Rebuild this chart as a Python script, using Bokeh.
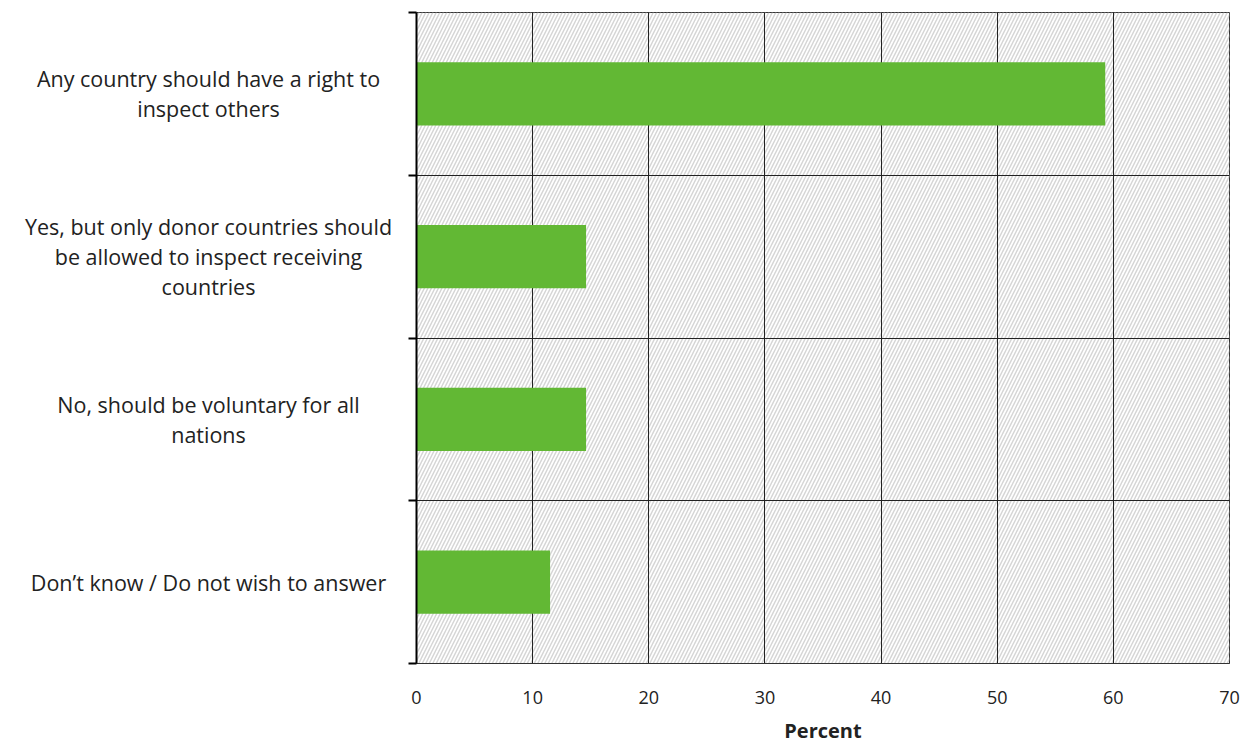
from bokeh.plotting import figure
from bokeh.layouts import row
from bokeh.models import (Range1d, FixedTicker, BoxAnnotation, ColumnDataSource)
from bokeh.core.properties import value
from bokeh.embed import file_html
from bokeh.resources import INLINE

categories = [
    "Any country should have a right to\ninspect others",
    "Yes, but only donor countries should\nbe allowed to inspect receiving\ncountries",
    "No, should be voluntary for all\nnations",
    "Don\u2019t know / Do not wish to answer",
]
values = [59.3, 14.6, 14.6, 11.5]
x_ticks = [0, 10, 20, 30, 40, 50, 60, 70]

FONT = "Open Sans"
ys = [i + 0.5 for i in range(len(categories))]
bounds = list(range(len(categories) + 1))

H = 746
LEFT_W = 408
y_range = Range1d(len(categories), 0)

# ---- left panel: category labels ----
lp = figure(width=LEFT_W, height=H, output_backend="svg", toolbar_location=None,
            x_range=Range1d(0, LEFT_W), y_range=y_range,
            x_axis_location=None, y_axis_location=None,
            min_border_left=0, min_border_right=0, min_border_top=12, min_border_bottom=82)
lp.outline_line_color = None
lp.grid.visible = False
lsrc = ColumnDataSource(dict(y=ys, t=categories))
lp.text(x=208, y="y", text="t", source=lsrc, text_align="center", text_baseline="middle",
        text_font=value(FONT), text_font_size="21.5px", text_color="#222222",
        text_line_height=1.04)

# ---- main panel ----
p = figure(width=1240 - LEFT_W, height=H, output_backend="svg", toolbar_location=None,
           x_range=Range1d(0, 70), y_range=y_range,
           min_border_left=8, min_border_right=11, min_border_top=12, min_border_bottom=82)

p.background_fill_color = "white"
p.outline_line_color = "#333333"
p.outline_line_width = 1

hatch = BoxAnnotation(fill_alpha=0, line_alpha=0, hatch_pattern="/", hatch_color="#d6d6d6",
                      hatch_scale=7, hatch_weight=1.5, level="image")
p.add_layout(hatch)

src = ColumnDataSource(dict(y=ys, v=values))
p.hbar(y="y", right="v", left=0, height=0.39, source=src, fill_color="#62b834", line_color=None)

p.xgrid.ticker = FixedTicker(ticks=x_ticks)
p.xgrid.grid_line_color = "#222222"
p.xgrid.grid_line_width = 1
p.ygrid.ticker = FixedTicker(ticks=bounds)
p.ygrid.grid_line_color = "#222222"
p.ygrid.grid_line_width = 1

xa = p.xaxis[0]
xa.ticker = FixedTicker(ticks=x_ticks)
xa.major_tick_line_color = None
xa.minor_tick_line_color = None
xa.axis_line_color = "#333333"
xa.major_label_text_font = FONT
xa.major_label_text_font_size = "18px"
xa.major_label_text_color = "#222222"
xa.major_label_standoff = 21
xa.axis_label = "Percent"
xa.axis_label_text_font = FONT
xa.axis_label_text_font_size = "20px"
xa.axis_label_text_font_style = "bold"
xa.axis_label_text_color = "#222222"
xa.axis_label_standoff = 10

ya = p.yaxis[0]
ya.ticker = FixedTicker(ticks=bounds)
ya.major_label_overrides = {b: "" for b in bounds}
ya.major_tick_out = 8
ya.major_tick_in = 0
ya.major_tick_line_width = 2
ya.minor_tick_line_color = None
ya.axis_line_width = 2
ya.axis_line_color = "black"
ya.major_label_standoff = 0

layout = row(lp, p, spacing=0)
open("out.html", "w").write(file_html(layout, INLINE))
